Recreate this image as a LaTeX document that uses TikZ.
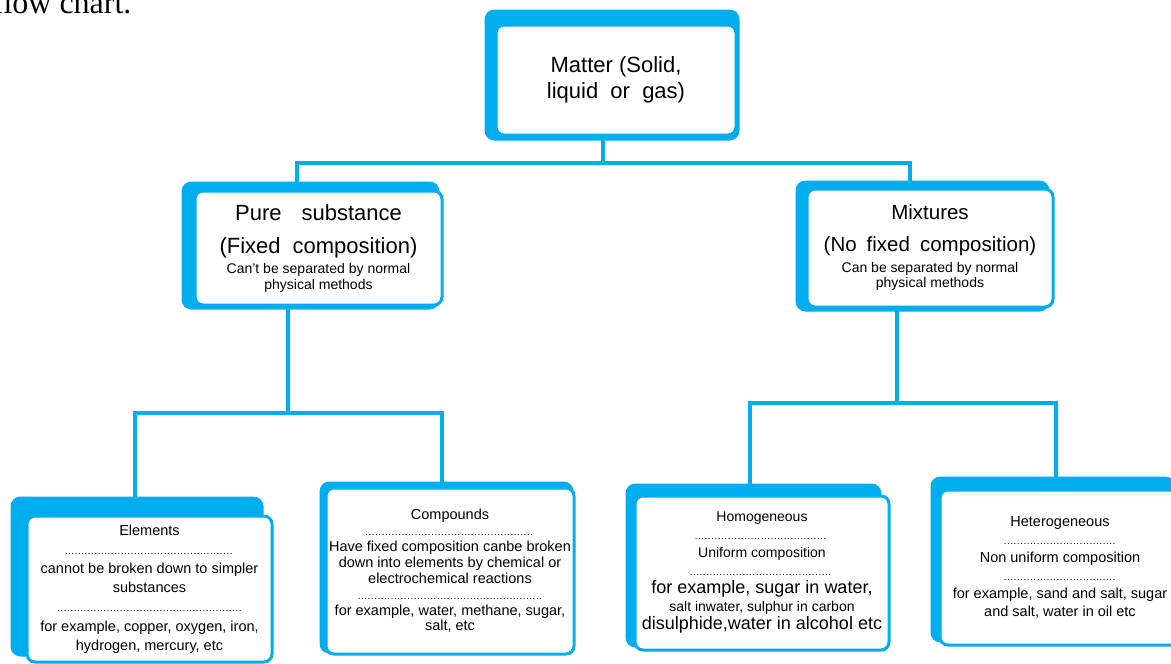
\documentclass[tikz,border=0pt]{standalone}
\usepackage{fontspec}
\setmainfont{Liberation Sans}
\newfontfamily\pagefont{Liberation Serif}
\usetikzlibrary{backgrounds,calc}
\definecolor{flowcyan}{HTML}{00AEEF}
\newcommand{\fsz}[2]{\fontsize{#1}{#2}\selectfont}
\newcommand{\dotrow}[1]{{\fsz{10}{10}\makebox[#1]{\leaders\hbox to 3.3pt{\hss.\hss}\hfill}}}
\tikzset{
    matter chart/.style = {x=1pt, y=-1pt},
    box/.style          = {draw=flowcyan, line width=3pt, fill=white,
                           rounded corners=8pt, align=center, inner sep=0pt,
                           execute at begin node={\lineskiplimit=-100pt}},
    link/.style         = {draw=flowcyan, line width=4.5pt},
    backing/.style      = {fill=flowcyan, rounded corners=10pt}
}

\begin{document}
\begin{tikzpicture}[matter chart]
\useasboundingbox (0,0) rectangle (1171,664);

\node[font=\pagefont\fsz{32}{32}, anchor=base east] (caption) at (135,13) {flow chart.};

% ================= Top level =================
\node[box, minimum width=240pt, minimum height=110pt, font=\fsz{22}{26}] (matter) at (616,80)
    {Matter (Solid,\\ liquid\ \ or\ \ gas)};

% ================= Second level =================
\node[box, minimum width=247pt, minimum height=114pt, font=\fsz{14}{16}] (pure) at (318.5,248)
    {{\fsz{22}{22}Pure\hspace{20pt}substance}\\[17pt]
     {\fsz{22}{22}(Fixed\hspace{12pt}composition)}\\[4pt]
     Can’t be separated by normal\\ physical methods};
\node[box, minimum width=246pt, minimum height=118pt, font=\fsz{14}{15}] (mix) at (930,248)
    {{\fsz{20.5}{20.5}Mixtures}\\[17pt]
     {\fsz{20.5}{20.5}(No\hspace{10pt}fixed\hspace{10pt}composition)}\\[6pt]
     Can be separated by normal\\ physical methods};

% ================= Third level =================
\node[box, minimum width=245pt, minimum height=146pt, font=\fsz{14.5}{19.2}] (elem) at (149.5,589)
    {Elements\\ \dotrow{170pt}\\ cannot be broken down to simpler\\ substances\\
     \dotrow{185pt}\\ for example, copper, oxygen, iron,\\ hydrogen, mercury, etc};
\node[box, minimum width=248pt, minimum height=166pt, font=\fsz{14.5}{15.9}] (comp) at (450,571)
    {Compounds\\ \dotrow{170pt}\\ Have fixed composition canbe broken\\
     down into elements by chemical or\\ electrochemical reactions\\
     \dotrow{185pt}\\ for example, water, methane, sugar,\\ salt, etc};
\node[box, minimum width=254pt, minimum height=154pt, font=\fsz{14}{18}] (homo) at (762,573)
    {Homogeneous\\ \dotrow{135pt}\\ Uniform composition\\ \dotrow{145pt}\\
     {\fsz{18}{18}for example, sugar in water,}\\ salt inwater, sulphur in carbon\\
     {\fsz{18}{18}disulphide,water in alcohol etc}};
\node[box, minimum width=240pt, minimum height=155pt, font=\fsz{14.5}{18}] (hetero) at (1060,567.5)
    {Heterogeneous\\ \dotrow{113pt}\\ Non uniform composition\\ \dotrow{113pt}\\
     for example, sand and salt, sugar\\ and salt, water in oil etc};

% ================= Bus points =================
\coordinate (busM)  at (603,163);
\coordinate (busL)  at (297,163);
\coordinate (busR)  at (910,163);
\coordinate (pbus)  at (288,413);
\coordinate (pbusL) at (135,413);
\coordinate (pbusR) at (442,413);
\coordinate (mbus)  at (897,403);
\coordinate (mbusL) at (750,403);
\coordinate (mbusR) at (1056,403);

\begin{scope}[on background layer]
\fill[white] (0,0) rectangle (1171,664);
% thick frames behind the boxes
\foreach \n/\ax/\ay/\bx/\by in {matter/-10/-14/2/4, pure/-12/-8/-4/3, mix/-10/-7/-5/3,
                                elem/-15/-18/-10/-7, comp/-5/-5/-2/-2, homo/-8/-11/-9/-4,
                                hetero/-8/-12/-6/-4}
    \path[backing] ($(\n.north west)+(\ax,\ay)$) rectangle ($(\n.south east)+(\bx,\by)$);

% connectors
\draw[link] (matter.south -| busM) -- (busM);
\draw[link] (pure.north -| busL) -- (busL) -- (busR) -- (mix.north -| busR);
\draw[link] (pure.south -| pbus) -- (pbus);
\draw[link] (elem.north -| pbusL) -- (pbusL) -- (pbusR) -- (comp.north -| pbusR);
\draw[link] (mix.south -| mbus) -- (mbus);
\draw[link] (homo.north -| mbusL) -- (mbusL) -- (mbusR) -- (hetero.north -| mbusR);
\end{scope}

\end{tikzpicture}
\end{document}
